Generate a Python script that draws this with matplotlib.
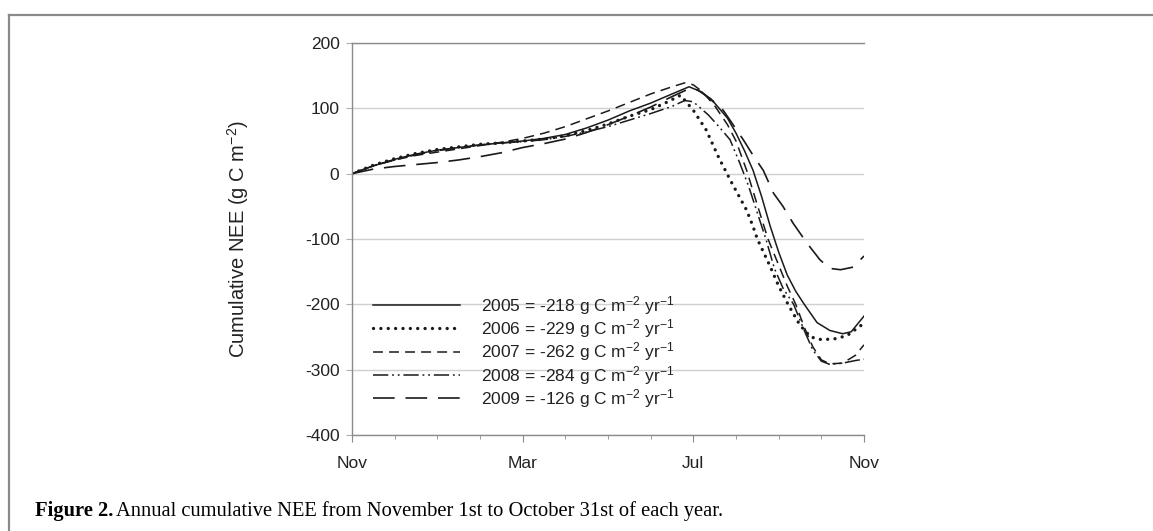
import matplotlib
matplotlib.use("Agg")
import matplotlib.pyplot as plt
from matplotlib.lines import Line2D

plt.rcParams['font.family'] = ['Liberation Sans', 'DejaVu Sans']
plt.rcParams['mathtext.default'] = 'regular'
plt.rcParams['axes.unicode_minus'] = False

# x in months since Nov 1
m05 = [0, 0.5, 1, 1.5, 2, 2.5, 3, 3.5, 4, 4.5, 5, 5.5, 6, 6.5, 7, 7.5, 7.9, 8.2, 8.5, 8.8, 9.0, 9.2, 9.4, 9.6, 9.8, 10.0, 10.2, 10.4, 10.6, 10.9, 11.2, 11.5, 11.7, 12]
v05 = [0, 12, 22, 30, 36, 40, 44, 47, 50, 54, 60, 70, 82, 96, 108, 122, 133, 125, 108, 85, 62, 35, 5, -35, -80, -120, -155, -180, -200, -228, -240, -245, -242, -218]

m06 = [0, 0.5, 1, 1.5, 2, 2.5, 3, 3.5, 4, 4.5, 5, 5.5, 6, 6.5, 7, 7.4, 7.7, 8.0, 8.3, 8.6, 8.9, 9.25, 9.4, 9.5, 9.8, 10.0, 10.22, 10.5, 10.75, 11.0, 11.3, 11.6, 12]
v06 = [0, 13, 23, 31, 37, 41, 45, 47, 50, 53, 58, 66, 76, 88, 98, 110, 120, 97, 67, 24, -14, -56, -81, -100, -142, -172, -200, -232, -250, -254, -253, -248, -229]

m07 = [0, 0.5, 1, 1.5, 2, 2.5, 3, 3.5, 4, 4.5, 5, 5.5, 6, 6.5, 7, 7.5, 7.8, 8.0, 8.2, 8.5, 8.8, 9.0, 9.25, 9.5, 9.75, 10.0, 10.2, 10.4, 10.6, 10.8, 11.0, 11.2, 11.5, 11.8, 12]
v07 = [0, 12, 21, 28, 33, 38, 43, 48, 54, 62, 72, 84, 96, 109, 122, 133, 139, 136, 126, 104, 75, 50, 5, -48, -100, -140, -172, -200, -235, -265, -285, -291, -290, -278, -262]

m08 = [0, 0.5, 1, 1.5, 2, 2.5, 3, 3.5, 4, 4.5, 5, 5.5, 6, 6.5, 7, 7.5, 7.8, 8.0, 8.35, 8.6, 8.86, 9.09, 9.3, 9.5, 9.7, 9.9, 10.1, 10.35, 10.6, 10.8, 11.0, 11.2, 11.5, 11.8, 12]
v08 = [0, 12, 21, 29, 35, 40, 44, 47, 49, 52, 57, 64, 72, 82, 92, 103, 112, 110, 90, 72, 52, 16, -20, -60, -100, -145, -175, -200, -240, -270, -287, -292, -290, -286, -284]

m09 = [0, 0.5, 1, 1.5, 2, 2.5, 3, 3.5, 4, 4.5, 5, 5.5, 6, 6.5, 7, 7.5, 7.9, 8.1, 8.4, 8.7, 8.9, 9.17, 9.4, 9.64, 9.88, 10.1, 10.34, 10.66, 10.97, 11.2, 11.45, 11.75, 12]
v09 = [0, 7, 11, 14, 17, 21, 26, 32, 40, 46, 53, 63, 75, 88, 102, 118, 130, 128, 115, 97, 78, 52, 28, 5, -30, -50, -76, -106, -132, -145, -147, -143, -126]

labels = ["2005 = -218 g C m$^{-2}$ yr$^{-1}$",
          "2006 = -229 g C m$^{-2}$ yr$^{-1}$",
          "2007 = -262 g C m$^{-2}$ yr$^{-1}$",
          "2008 = -284 g C m$^{-2}$ yr$^{-1}$",
          "2009 = -126 g C m$^{-2}$ yr$^{-1}$"]

month_ticks = [0, 4, 8, 12]
month_labels = ["Nov", "Mar", "Jul", "Nov"]
y_ticks = [200, 100, 0, -100, -200, -300, -400]

W, H = 1153, 531
fig = plt.figure(figsize=(W / 100, H / 100), dpi=100)
ax = fig.add_axes([352 / W, 1 - 435 / H, (864 - 352) / W, (435 - 43) / H])

col = '#1a1a1a'
styles = [
    dict(linestyle='-', lw=1.1),
    dict(linestyle=(0, (0.01, 2.2)), lw=2.4, dash_capstyle='round'),
    dict(linestyle=(0, (6.5, 4)), lw=1.1),
    dict(linestyle=(0, (10, 2.5, 1.2, 2.5, 1.2, 2.5)), lw=1.1),
    dict(linestyle=(0, (13, 6.5)), lw=1.2),
]
series = [(m05, v05), (m06, v06), (m07, v07), (m08, v08), (m09, v09)]
for (mx, vy), st, lab in zip(series, styles, labels):
    ax.plot(mx, vy, color=col, label=lab, **st)

ax.set_xlim(0, 12)
ax.set_ylim(-400, 200)
ax.set_xticks(month_ticks)
ax.set_xticklabels(month_labels)
ax.set_xticks(range(0, 13), minor=True)
ax.set_yticks(y_ticks)
ax.set_yticklabels([str(t) for t in y_ticks])
ax.yaxis.grid(True, color='#d0d0d0', lw=1.0)
ax.set_axisbelow(True)
ax.spines['right'].set_visible(False)
for s in ['left', 'bottom', 'top']:
    ax.spines[s].set_color('#8a8a8a')
    ax.spines[s].set_linewidth(1.0)
ax.tick_params(axis='x', which='major', direction='out', length=5, color='#8a8a8a', labelsize=12.5, pad=10, labelcolor='#222222')
ax.tick_params(axis='x', which='minor', direction='out', length=3, color='#8a8a8a')
ax.tick_params(axis='y', which='major', direction='out', length=4, color='#b0b0b0', labelsize=12.5, pad=5, labelcolor='#222222')
ax.set_ylabel("Cumulative NEE (g C m$^{-2}$)", fontsize=14.5, color='#222222')
ax.yaxis.set_label_coords(-0.197, 0.5)

leg = ax.legend(loc='upper left', bbox_to_anchor=(0.041, 0.36), frameon=False,
                fontsize=12.5, handlelength=5.0, handletextpad=1.25, labelspacing=0.02,
                borderaxespad=0, borderpad=0)
for t in leg.get_texts():
    t.set_color('#222222')

# outer frame (left and top)
fig.add_artist(Line2D([9 / W, 9 / W], [0, 1 - 15 / H], color='#8a8a8a', lw=1.6, transform=fig.transFigure))
fig.add_artist(Line2D([9 / W, 1], [1 - 15 / H, 1 - 15 / H], color='#8a8a8a', lw=1.6, transform=fig.transFigure))

serif = ['Liberation Serif', 'DejaVu Serif']
t1 = fig.text(35 / W, 1 - 511 / H, "Figure 2.", fontsize=14.8, fontweight='bold',
              family=serif, va='center', ha='left')
fig.canvas.draw()
bb = t1.get_window_extent()
fig.text((bb.x1 + 3) / W, 1 - 511 / H, "Annual cumulative NEE from November 1st to October 31st of each year.",
         fontsize=14.8, family=serif, va='center', ha='left')

fig.savefig("out.png", dpi=100)
